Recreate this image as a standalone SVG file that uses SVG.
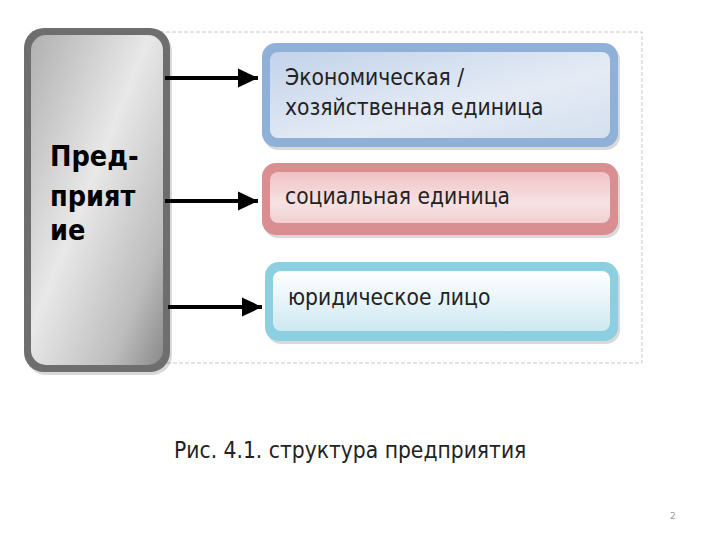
<svg xmlns="http://www.w3.org/2000/svg" width="720" height="540" viewBox="0 0 720 540">
<defs>
<linearGradient id="gBig" x1="0" y1="0" x2="1" y2="1">
<stop offset="0" stop-color="#b0b0b0"/><stop offset="0.45" stop-color="#e8e8e8"/><stop offset="0.8" stop-color="#bdbdbd"/><stop offset="1" stop-color="#8a8a8a"/>
</linearGradient>
<linearGradient id="gBlue" x1="0" y1="0" x2="1" y2="1">
<stop offset="0" stop-color="#c3d3ea"/><stop offset="0.6" stop-color="#e4ebf5"/><stop offset="1" stop-color="#d4e0ef"/>
</linearGradient>
<linearGradient id="gRed" x1="0" y1="0" x2="0" y2="1">
<stop offset="0" stop-color="#efc3c5"/><stop offset="0.6" stop-color="#f8e2e3"/><stop offset="1" stop-color="#f1cfd0"/>
</linearGradient>
<linearGradient id="gCyan" x1="0" y1="0" x2="0" y2="1">
<stop offset="0" stop-color="#ffffff"/><stop offset="1" stop-color="#cde9f1"/>
</linearGradient>
<marker id="ah" markerWidth="6" markerHeight="6" refX="5" refY="3" orient="auto" markerUnits="strokeWidth">
<path d="M0,0.6 L5,3 L0,5.4 Z" fill="#000"/>
</marker>
<style>
.t{font-family:"DejaVu Sans Condensed","DejaVu Sans","Liberation Sans",sans-serif;font-size:22.6px;fill:#222}
.b{font-family:"DejaVu Sans Condensed","DejaVu Sans","Liberation Sans",sans-serif;font-size:28.5px;font-weight:bold;fill:#000}
.c{stroke:#000;stroke-width:4;fill:none;marker-end:url(#ah)}
.sh{fill:#000;opacity:0.15}
</style>
</defs>
<rect width="720" height="540" fill="#fff"/>
<rect x="40" y="32" width="602" height="331" fill="none" stroke="#c8c8c8" stroke-width="1" stroke-dasharray="4,2"/>
<g id="enterprise">
<rect class="sh" x="26" y="31" width="146" height="344" rx="20"/>
<rect x="24" y="28" width="146" height="344" rx="20" fill="#6e6e6e"/>
<rect x="31" y="35" width="132" height="330" rx="15" fill="url(#gBig)"/>
<text class="b" x="50" y="166">Пред-</text>
<text class="b" x="50" y="206">прият</text>
<text class="b" x="50" y="240">ие</text>
</g>
<g id="economic">
<rect class="sh" x="264" y="46" width="356" height="104" rx="14"/>
<rect x="262" y="43" width="356" height="104" rx="14" fill="#8fb0d9"/>
<rect x="270" y="52" width="340" height="86" rx="8" fill="url(#gBlue)"/>
<text class="t" x="285" y="85">Экономическая /</text>
<text class="t" x="285" y="115">хозяйственная единица</text>
</g>
<g id="social">
<rect class="sh" x="264" y="166" width="356" height="72" rx="14"/>
<rect x="262" y="163" width="356" height="72" rx="14" fill="#da8e92"/>
<rect x="270" y="172" width="340" height="51" rx="8" fill="url(#gRed)"/>
<text class="t" x="285" y="204">социальная единица</text>
</g>
<g id="legal">
<rect class="sh" x="267" y="265" width="353" height="79" rx="14"/>
<rect x="265" y="262" width="353" height="79" rx="14" fill="#8ccfe0"/>
<rect x="273" y="271" width="337" height="60" rx="8" fill="url(#gCyan)"/>
<text class="t" x="288" y="305">юридическое лицо</text>
</g>
<g id="connectors">
<line class="c" x1="165" y1="78" x2="258" y2="78"/>
<line class="c" x1="165" y1="201" x2="258" y2="201"/>
<line class="c" x1="168" y1="307" x2="262" y2="307"/>
</g>
<text class="t" x="174" y="458" font-size="23.9">Рис. 4.1. структура предприятия</text>
<text x="670" y="519" font-family="DejaVu Sans,sans-serif" font-size="9" fill="#999">2</text>
</svg>
